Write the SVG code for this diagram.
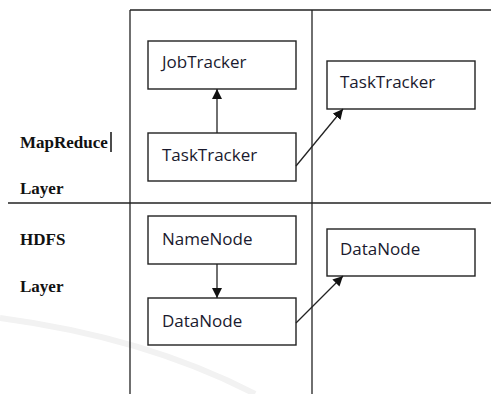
<svg xmlns="http://www.w3.org/2000/svg" width="491" height="394" viewBox="0 0 491 394">
<style>
.frame{stroke:#222;stroke-width:1.3;fill:none}
.box rect{fill:#fff;stroke:#222;stroke-width:1.4}
.box text{font-family:"Open Sans","Noto Sans",sans-serif;font-size:17px;fill:#1a1a2e}
.lbl{font-family:"Liberation Serif",serif;font-weight:bold;font-size:17px;fill:#111}
.conn line{stroke:#222;stroke-width:1.3;marker-end:url(#ah)}
</style>
<defs>
<marker id="ah" viewBox="0 0 10 10" refX="10" refY="5" markerWidth="10" markerHeight="10" markerUnits="userSpaceOnUse" orient="auto">
<path d="M0,0 L10,5 L0,10 z" fill="#111"/>
</marker>
</defs>
<rect width="491" height="394" fill="#fff"/>
<path d="M0,318 C90,330 180,355 255,394" stroke="#f2f2f2" stroke-width="6" fill="none"/>
<g id="grid">
<line class="frame" x1="130" y1="10" x2="491" y2="10"/>
<line class="frame" x1="130" y1="10" x2="130" y2="394"/>
<line class="frame" x1="312" y1="10" x2="312" y2="394"/>
<line class="frame" x1="8" y1="203" x2="491" y2="203"/>
</g>
<g id="labels">
<text class="lbl" x="20" y="148">MapReduce</text>
<line x1="111" y1="132" x2="111" y2="152" stroke="#111" stroke-width="1.5"/>
<text class="lbl" x="20" y="194">Layer</text>
<text class="lbl" x="20" y="245">HDFS</text>
<text class="lbl" x="20" y="292">Layer</text>
</g>
<g id="jobtracker" class="box"><rect x="148" y="41" width="148" height="48"/><text x="162" y="68">JobTracker</text></g>
<g id="tasktracker1" class="box"><rect x="148" y="133" width="148" height="48"/><text x="162" y="161">TaskTracker</text></g>
<g id="tasktracker2" class="box"><rect x="327" y="61" width="148" height="48"/><text x="340" y="88">TaskTracker</text></g>
<g id="namenode" class="box"><rect x="148" y="216" width="148" height="48"/><text x="162" y="245">NameNode</text></g>
<g id="datanode1" class="box"><rect x="148" y="298" width="148" height="47"/><text x="162" y="327">DataNode</text></g>
<g id="datanode2" class="box"><rect x="327" y="229" width="148" height="47"/><text x="340" y="255">DataNode</text></g>
<g id="connectors" class="conn">
<line x1="217" y1="133" x2="217" y2="89"/>
<line x1="296" y1="166" x2="343" y2="109"/>
<line x1="217" y1="264" x2="217" y2="298"/>
<line x1="296" y1="323" x2="343" y2="276"/>
</g>
</svg>
